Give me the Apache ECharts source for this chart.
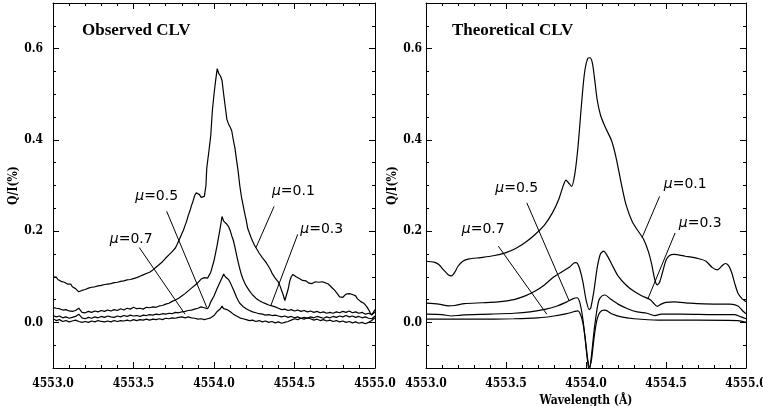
<!DOCTYPE html>
<html>
<head>
<meta charset="utf-8">
<script src="https://cdn.jsdelivr.net/npm/echarts@6/dist/echarts.min.js"></script>
<style>html,body{margin:0;padding:0;background:#fff;}#chart{width:763px;height:406px;}</style>
</head>
<body>
<div id="chart"></div>
<script>
// ---------------- DATA ----------------
const xTickLabels = ['4553.0', '4553.5', '4554.0', '4554.5', '4555.0'];
const yTickValues = [0.0, 0.2, 0.4, 0.6];
const panelTitles = ['Observed CLV', 'Theoretical CLV'];
const muNames = ['0.1', '0.3', '0.5', '0.7'];

// Observed CLV, [wavelength (Å), Q/I (%)]
const obsMu01 = [
[4553.00,0.100],[4553.01,0.097],[4553.02,0.099],[4553.03,0.094],[4553.04,0.095],[4553.05,0.090],[4553.06,0.092],[4553.07,0.088],[4553.08,0.089],[4553.09,0.084],
[4553.10,0.082],[4553.11,0.084],[4553.12,0.078],[4553.13,0.076],[4553.14,0.074],[4553.15,0.070],[4553.16,0.067],[4553.17,0.064],[4553.18,0.070],[4553.19,0.066],
[4553.20,0.072],[4553.21,0.070],[4553.22,0.075],[4553.23,0.073],[4553.24,0.077],[4553.25,0.074],[4553.26,0.078],[4553.27,0.076],[4553.28,0.080],[4553.29,0.077],
[4553.30,0.081],[4553.31,0.079],[4553.32,0.083],[4553.33,0.080],[4553.34,0.084],[4553.35,0.082],[4553.36,0.085],[4553.37,0.083],[4553.38,0.087],[4553.39,0.084],
[4553.40,0.088],[4553.41,0.086],[4553.42,0.090],[4553.43,0.087],[4553.44,0.091],[4553.45,0.089],[4553.46,0.093],[4553.47,0.090],[4553.48,0.094],[4553.49,0.092],
[4553.50,0.096],[4553.51,0.094],[4553.52,0.098],[4553.53,0.097],[4553.54,0.101],[4553.55,0.100],[4553.56,0.104],[4553.57,0.103],[4553.58,0.107],[4553.59,0.106],
[4553.60,0.110],[4553.61,0.111],[4553.62,0.115],[4553.63,0.117],[4553.64,0.121],[4553.65,0.124],[4553.66,0.127],[4553.67,0.131],[4553.68,0.133],[4553.69,0.137],
[4553.70,0.141],[4553.71,0.143],[4553.72,0.148],[4553.73,0.151],[4553.74,0.155],[4553.75,0.158],[4553.76,0.163],[4553.77,0.170],[4553.78,0.178],[4553.79,0.186],
[4553.80,0.194],[4553.81,0.202],[4553.82,0.212],[4553.83,0.222],[4553.84,0.234],[4553.85,0.244],[4553.86,0.256],[4553.87,0.266],[4553.88,0.278],[4553.89,0.284],
[4553.90,0.287],[4553.91,0.280],[4553.92,0.274],[4553.93,0.277],[4553.94,0.276],[4553.95,0.300],[4553.955,0.338],[4553.97,0.380],[4553.98,0.410],[4553.99,0.465],
[4554.00,0.500],[4554.01,0.530],[4554.02,0.556],[4554.03,0.545],[4554.04,0.540],[4554.05,0.530],[4554.06,0.500],[4554.07,0.472],[4554.08,0.445],[4554.09,0.435],
[4554.10,0.428],[4554.11,0.420],[4554.12,0.400],[4554.13,0.382],[4554.14,0.356],[4554.15,0.331],[4554.16,0.300],[4554.17,0.276],[4554.18,0.258],[4554.19,0.240],
[4554.20,0.224],[4554.21,0.205],[4554.22,0.196],[4554.23,0.186],[4554.24,0.178],[4554.25,0.170],[4554.26,0.164],[4554.27,0.158],[4554.28,0.152],[4554.29,0.148],
[4554.30,0.142],[4554.31,0.138],[4554.32,0.133],[4554.33,0.129],[4554.34,0.122],[4554.35,0.116],[4554.36,0.108],[4554.37,0.104],[4554.38,0.097],[4554.39,0.093],
[4554.40,0.088],[4554.41,0.080],[4554.42,0.070],[4554.43,0.060],[4554.44,0.048],[4554.45,0.060],[4554.46,0.072],[4554.47,0.090],[4554.48,0.100],[4554.49,0.105],
[4554.50,0.103],[4554.51,0.100],[4554.52,0.097],[4554.53,0.096],[4554.54,0.094],[4554.55,0.092],[4554.56,0.090],[4554.57,0.091],[4554.58,0.088],[4554.59,0.086],
[4554.60,0.088],[4554.61,0.085],[4554.62,0.087],[4554.63,0.089],[4554.64,0.086],[4554.65,0.088],[4554.66,0.090],[4554.67,0.089],[4554.68,0.086],[4554.69,0.087],
[4554.70,0.083],[4554.71,0.084],[4554.72,0.080],[4554.73,0.077],[4554.74,0.074],[4554.75,0.070],[4554.76,0.066],[4554.77,0.061],[4554.78,0.056],[4554.79,0.052],
[4554.80,0.055],[4554.81,0.058],[4554.82,0.062],[4554.83,0.060],[4554.84,0.063],[4554.85,0.059],[4554.86,0.061],[4554.87,0.057],[4554.88,0.058],[4554.89,0.052],
[4554.90,0.050],[4554.91,0.046],[4554.92,0.047],[4554.93,0.042],[4554.94,0.038],[4554.95,0.034],[4554.96,0.028],[4554.97,0.021],[4554.98,0.016],[4554.99,0.020],
[4555.00,0.028]];

const obsMu03 = [
[4553.00,0.033],[4553.02,0.031],[4553.04,0.030],[4553.06,0.027],[4553.08,0.028],[4553.10,0.025],[4553.12,0.024],[4553.14,0.026],[4553.16,0.031],[4553.17,0.028],
[4553.18,0.022],[4553.20,0.021],[4553.22,0.024],[4553.24,0.022],[4553.26,0.025],[4553.28,0.023],[4553.30,0.026],[4553.32,0.024],[4553.34,0.027],[4553.36,0.025],
[4553.38,0.028],[4553.40,0.026],[4553.42,0.030],[4553.44,0.027],[4553.46,0.031],[4553.48,0.029],[4553.50,0.033],[4553.52,0.030],[4553.54,0.031],[4553.56,0.029],
[4553.58,0.033],[4553.60,0.032],[4553.62,0.034],[4553.64,0.033],[4553.66,0.036],[4553.68,0.037],[4553.70,0.040],[4553.72,0.042],[4553.74,0.046],[4553.76,0.049],
[4553.78,0.053],[4553.80,0.058],[4553.82,0.063],[4553.84,0.069],[4553.86,0.075],[4553.88,0.081],[4553.90,0.087],[4553.92,0.095],[4553.94,0.098],[4553.95,0.094],
[4553.96,0.097],[4553.98,0.110],[4554.00,0.135],[4554.02,0.170],[4554.03,0.190],[4554.04,0.210],[4554.05,0.232],[4554.06,0.222],[4554.07,0.226],[4554.08,0.215],
[4554.09,0.210],[4554.10,0.202],[4554.11,0.190],[4554.12,0.180],[4554.13,0.165],[4554.14,0.148],[4554.15,0.132],[4554.16,0.118],[4554.17,0.105],[4554.18,0.095],
[4554.19,0.087],[4554.20,0.080],[4554.22,0.069],[4554.24,0.060],[4554.26,0.053],[4554.28,0.048],[4554.30,0.044],[4554.32,0.041],[4554.34,0.038],[4554.36,0.036],
[4554.38,0.034],[4554.40,0.031],[4554.42,0.028],[4554.44,0.029],[4554.46,0.026],[4554.48,0.028],[4554.50,0.025],[4554.52,0.027],[4554.54,0.024],[4554.56,0.026],
[4554.58,0.023],[4554.60,0.025],[4554.62,0.022],[4554.64,0.024],[4554.66,0.021],[4554.68,0.023],[4554.70,0.020],[4554.72,0.022],[4554.74,0.020],[4554.76,0.023],
[4554.78,0.021],[4554.80,0.024],[4554.82,0.022],[4554.84,0.025],[4554.86,0.021],[4554.88,0.023],[4554.90,0.020],[4554.92,0.022],[4554.94,0.018],[4554.96,0.020],
[4554.98,0.017],[4555.00,0.022]];

const obsMu05 = [
[4553.00,0.015],[4553.02,0.012],[4553.04,0.014],[4553.06,0.010],[4553.08,0.012],[4553.10,0.009],[4553.12,0.011],[4553.14,0.013],[4553.16,0.018],[4553.18,0.010],
[4553.20,0.008],[4553.22,0.011],[4553.24,0.009],[4553.26,0.012],[4553.28,0.010],[4553.30,0.013],[4553.32,0.011],[4553.34,0.014],[4553.36,0.012],[4553.38,0.011],
[4553.40,0.014],[4553.42,0.012],[4553.44,0.015],[4553.46,0.013],[4553.48,0.016],[4553.50,0.014],[4553.52,0.015],[4553.54,0.013],[4553.56,0.016],[4553.58,0.015],
[4553.60,0.017],[4553.62,0.016],[4553.64,0.018],[4553.66,0.017],[4553.68,0.019],[4553.70,0.018],[4553.72,0.020],[4553.74,0.019],[4553.76,0.022],[4553.78,0.021],
[4553.80,0.023],[4553.82,0.024],[4553.84,0.026],[4553.86,0.027],[4553.88,0.029],[4553.90,0.031],[4553.92,0.034],[4553.94,0.032],[4553.96,0.030],[4553.97,0.036],
[4553.98,0.045],[4554.00,0.058],[4554.02,0.075],[4554.04,0.090],[4554.05,0.098],[4554.06,0.106],[4554.07,0.100],[4554.08,0.098],[4554.09,0.094],[4554.10,0.088],
[4554.11,0.080],[4554.12,0.072],[4554.13,0.064],[4554.14,0.055],[4554.15,0.048],[4554.16,0.042],[4554.18,0.035],[4554.20,0.030],[4554.22,0.026],[4554.24,0.023],
[4554.26,0.021],[4554.28,0.019],[4554.30,0.018],[4554.32,0.016],[4554.34,0.017],[4554.36,0.015],[4554.38,0.016],[4554.40,0.014],[4554.42,0.012],[4554.44,0.014],
[4554.46,0.011],[4554.48,0.013],[4554.50,0.010],[4554.52,0.012],[4554.54,0.009],[4554.56,0.011],[4554.58,0.009],[4554.60,0.012],[4554.62,0.010],[4554.64,0.013],
[4554.66,0.011],[4554.68,0.009],[4554.70,0.012],[4554.72,0.010],[4554.74,0.013],[4554.76,0.011],[4554.78,0.014],[4554.80,0.012],[4554.82,0.015],[4554.84,0.012],
[4554.86,0.014],[4554.88,0.011],[4554.90,0.013],[4554.92,0.010],[4554.94,0.012],[4554.96,0.009],[4554.98,0.008],[4555.00,0.014]];

const obsMu07 = [
[4553.00,0.008],[4553.02,0.004],[4553.04,0.006],[4553.06,0.002],[4553.08,0.004],[4553.10,0.001],[4553.12,0.003],[4553.14,0.005],[4553.16,0.002],[4553.18,0.000],
[4553.20,0.002],[4553.22,0.000],[4553.24,0.003],[4553.26,0.001],[4553.28,0.004],[4553.30,0.002],[4553.32,0.001],[4553.34,0.003],[4553.36,0.001],[4553.38,0.004],
[4553.40,0.002],[4553.42,0.004],[4553.44,0.003],[4553.46,0.005],[4553.48,0.003],[4553.50,0.006],[4553.52,0.004],[4553.54,0.006],[4553.56,0.005],[4553.58,0.007],
[4553.60,0.005],[4553.62,0.007],[4553.64,0.006],[4553.66,0.008],[4553.68,0.006],[4553.70,0.009],[4553.72,0.008],[4553.74,0.010],[4553.76,0.009],[4553.78,0.011],
[4553.80,0.012],[4553.82,0.010],[4553.84,0.012],[4553.86,0.010],[4553.88,0.009],[4553.90,0.007],[4553.92,0.008],[4553.94,0.006],[4553.96,0.008],[4553.98,0.010],
[4554.00,0.015],[4554.02,0.024],[4554.04,0.030],[4554.05,0.036],[4554.06,0.030],[4554.07,0.033],[4554.08,0.028],[4554.09,0.026],[4554.10,0.024],[4554.12,0.018],
[4554.14,0.014],[4554.16,0.010],[4554.18,0.008],[4554.20,0.006],[4554.22,0.004],[4554.24,0.005],[4554.26,0.002],[4554.28,0.004],[4554.30,0.001],[4554.32,0.003],
[4554.34,0.000],[4554.36,0.002],[4554.38,-0.001],[4554.40,0.001],[4554.42,-0.002],[4554.44,0.000],[4554.46,0.002],[4554.48,0.005],[4554.50,0.008],[4554.52,0.006],
[4554.54,0.009],[4554.56,0.007],[4554.58,0.010],[4554.60,0.008],[4554.62,0.005],[4554.64,0.007],[4554.66,0.004],[4554.68,0.006],[4554.70,0.003],[4554.72,0.005],
[4554.74,0.002],[4554.76,0.004],[4554.78,0.001],[4554.80,0.003],[4554.82,0.000],[4554.84,0.002],[4554.86,-0.001],[4554.88,0.001],[4554.90,-0.002],[4554.92,0.000],
[4554.94,-0.003],[4554.96,0.000],[4554.98,0.004],[4555.00,0.010]];

// Theoretical CLV, [wavelength (Å), Q/I (%)]
const theoMu01 = [
[4553.00,0.134],[4553.05,0.132],[4553.08,0.127],[4553.11,0.115],[4553.14,0.104],[4553.16,0.102],[4553.18,0.110],[4553.20,0.123],[4553.23,0.134],[4553.27,0.139],
[4553.34,0.142],[4553.42,0.146],[4553.50,0.153],[4553.56,0.162],[4553.62,0.175],[4553.68,0.192],[4553.74,0.213],[4553.79,0.240],[4553.83,0.270],[4553.86,0.302],
[4553.875,0.312],[4553.89,0.306],[4553.91,0.298],[4553.93,0.325],[4553.95,0.385],[4553.97,0.470],[4553.99,0.545],[4554.01,0.578],[4554.025,0.580],[4554.04,0.568],
[4554.055,0.530],[4554.07,0.488],[4554.09,0.455],[4554.12,0.428],[4554.16,0.398],[4554.19,0.358],[4554.22,0.305],[4554.25,0.258],[4554.29,0.220],[4554.33,0.198],
[4554.36,0.182],[4554.39,0.155],[4554.41,0.128],[4554.43,0.094],[4554.445,0.082],[4554.46,0.088],[4554.48,0.112],[4554.50,0.136],[4554.52,0.146],[4554.55,0.149],
[4554.62,0.145],[4554.70,0.140],[4554.75,0.134],[4554.79,0.120],[4554.82,0.115],[4554.85,0.124],[4554.87,0.129],[4554.89,0.125],[4554.91,0.110],[4554.93,0.085],
[4554.95,0.064],[4554.975,0.052],[4555.00,0.045]];

const theoMu03 = [
[4553.00,0.042],[4553.08,0.040],[4553.14,0.036],[4553.18,0.037],[4553.24,0.041],[4553.35,0.043],[4553.45,0.045],[4553.55,0.050],[4553.62,0.058],[4553.68,0.068],
[4553.74,0.082],[4553.80,0.100],[4553.86,0.113],[4553.90,0.122],[4553.93,0.131],[4553.945,0.130],[4553.96,0.118],[4553.98,0.090],[4554.00,0.050],[4554.02,0.028],
[4554.03,0.032],[4554.05,0.070],[4554.07,0.120],[4554.09,0.150],[4554.11,0.156],[4554.13,0.148],[4554.16,0.128],[4554.20,0.102],[4554.25,0.082],[4554.30,0.068],
[4554.35,0.058],[4554.40,0.050],[4554.42,0.043],[4554.445,0.035],[4554.47,0.040],[4554.50,0.044],[4554.55,0.045],[4554.65,0.042],[4554.80,0.040],[4554.90,0.040],
[4554.95,0.036],[4554.98,0.025],[4555.00,0.019]];

const theoMu05 = [
[4553.00,0.018],[4553.10,0.017],[4553.16,0.014],[4553.22,0.016],[4553.40,0.018],[4553.55,0.020],[4553.65,0.023],[4553.75,0.029],[4553.82,0.036],[4553.88,0.045],
[4553.92,0.052],[4553.945,0.054],[4553.96,0.045],[4553.975,0.020],[4553.99,-0.020],[4554.005,-0.070],[4554.02,-0.108],[4554.035,-0.070],[4554.05,-0.020],[4554.065,0.020],
[4554.08,0.048],[4554.10,0.058],[4554.12,0.060],[4554.15,0.052],[4554.20,0.040],[4554.26,0.030],[4554.32,0.023],[4554.38,0.020],[4554.43,0.015],[4554.47,0.018],
[4554.60,0.018],[4554.80,0.017],[4554.93,0.017],[4554.97,0.012],[4555.00,0.008]];

const theoMu07 = [
[4553.00,0.007],[4553.30,0.007],[4553.55,0.008],[4553.70,0.010],[4553.80,0.014],[4553.88,0.019],[4553.93,0.024],[4553.95,0.025],[4553.965,0.018],[4553.98,0.000],
[4553.995,-0.035],[4554.01,-0.080],[4554.022,-0.098],[4554.035,-0.080],[4554.05,-0.035],[4554.065,0.000],[4554.08,0.018],[4554.10,0.026],[4554.12,0.027],[4554.16,0.019],
[4554.22,0.012],[4554.30,0.008],[4554.45,0.005],[4554.70,0.005],[4554.95,0.004],[4555.00,0.000]];

// Annotation anchors (data coordinates), order: mu 0.1, 0.3, 0.5, 0.7
const obsLabelAt  = [[4554.493,0.287],[4554.669,0.204],[4553.644,0.276],[4553.486,0.182]];
const obsLineFrom = [[4554.373,0.254],[4554.520,0.193],[4553.706,0.2435],[4553.536,0.164]];
const obsLineTo   = [[4554.261,0.164],[4554.352,0.036],[4553.955,0.033],[4553.820,0.018]];
const theoLabelAt  = [[4554.620,0.302],[4554.714,0.218],[4553.567,0.2945],[4553.358,0.204]];
const theoLineFrom = [[4554.460,0.276],[4554.557,0.196],[4553.630,0.262],[4553.452,0.167]];
const theoLineTo   = [[4554.350,0.1855],[4554.386,0.051],[4553.895,0.047],[4553.755,0.018]];

// ---------------- CHART ----------------
const chart = echarts.init(document.getElementById('chart'), null, {renderer: 'canvas'});
const serifBold = "'DejaVu Serif Condensed', 'Liberation Serif', serif";
const tickFont = {fontFamily: serifBold, fontWeight: 'bold', fontSize: 12, color: '#000'};
const axisCol = '#000';

function xAxes(gridIndex, withName) {
  const base = {
    type: 'value', gridIndex: gridIndex, min: 4553, max: 4555, interval: 0.5,
    axisLine: {show: true, onZero: false, lineStyle: {color: axisCol, width: 1}},
    axisTick: {show: true, inside: true, length: 6, lineStyle: {color: axisCol}},
    minorTick: {show: true, splitNumber: 5, length: 3, lineStyle: {color: axisCol}},
    splitLine: {show: false}, minorSplitLine: {show: false}
  };
  const bottom = Object.assign({}, base, {
    position: 'bottom',
    axisLabel: Object.assign({show: true, margin: 10, formatter: function (v) {
      const i = Math.round((v - 4553) / 0.5); return xTickLabels[i] || '';
    }}, tickFont)
  });
  if (withName) {
    bottom.name = 'Wavelength (Å)';
    bottom.nameLocation = 'middle';
    bottom.nameGap = 21;
    bottom.nameTextStyle = {fontFamily: serifBold, fontWeight: 'bold', fontSize: 12, color: '#000'};
  }
  const top = Object.assign({}, base, {position: 'top', axisLabel: {show: false}});
  return [bottom, top];
}

function yAxes(gridIndex, nameGap, labelMargin) {
  const common = {type: 'value', gridIndex: gridIndex, min: -0.1, max: 0.7, splitLine: {show: false}};
  const leftMajor = Object.assign({}, common, {
    position: 'left',
    name: 'Q/I(%)', nameLocation: 'middle', nameGap: nameGap, nameRotate: 90,
    nameTextStyle: {fontFamily: serifBold, fontWeight: 'bold', fontSize: 12, color: '#000'},
    axisLine: {show: true, onZero: false, lineStyle: {color: axisCol, width: 1}},
    axisTick: {show: true, inside: true, length: 6, customValues: yTickValues, lineStyle: {color: axisCol}},
    axisLabel: Object.assign({show: true, margin: labelMargin, customValues: yTickValues, formatter: function (v) { return v.toFixed(1); }}, tickFont)
  });
  const leftMinor = Object.assign({}, common, {
    position: 'left', interval: 0.05,
    axisLine: {show: false}, axisLabel: {show: false},
    axisTick: {show: true, inside: true, length: 3, lineStyle: {color: axisCol}}
  });
  const rightMajor = Object.assign({}, common, {
    position: 'right',
    axisLine: {show: true, onZero: false, lineStyle: {color: axisCol, width: 1}},
    axisTick: {show: true, inside: true, length: 6, customValues: yTickValues, lineStyle: {color: axisCol}},
    axisLabel: {show: false}
  });
  const rightMinor = Object.assign({}, common, {
    position: 'right', interval: 0.05,
    axisLine: {show: false}, axisLabel: {show: false},
    axisTick: {show: true, inside: true, length: 3, lineStyle: {color: axisCol}}
  });
  return [leftMajor, leftMinor, rightMajor, rightMinor];
}

function curve(data, xi, yi, smooth) {
  return {
    type: 'line', xAxisIndex: xi, yAxisIndex: yi, data: data,
    showSymbol: false, symbol: 'none', clip: true, animation: false, smooth: smooth,
    lineStyle: {color: '#000', width: 1.2}, silent: true
  };
}

function annotations(xi, yi, labelAt, lineFrom, lineTo) {
  return {
    type: 'line', xAxisIndex: xi, yAxisIndex: yi, data: [], silent: true, animation: false,
    markLine: {
      silent: true, symbol: ['none', 'none'], animation: false,
      label: {show: false},
      lineStyle: {color: '#000', width: 1, type: 'solid'},
      data: lineFrom.map(function (p, i) { return [{coord: p}, {coord: lineTo[i]}]; })
    },
    markPoint: {
      silent: true, animation: false, symbol: 'circle', symbolSize: 0,
      itemStyle: {color: 'rgba(0,0,0,0)'},
      label: {
        show: true, position: 'inside', color: '#000',
        fontFamily: 'DejaVu Sans', fontSize: 14,
        rich: {i: {fontFamily: 'DejaVu Sans', fontStyle: 'italic', fontSize: 14, color: '#000'}}
      },
      data: labelAt.map(function (p, i) {
        return {coord: p, label: {formatter: '{i|\u03bc}=' + muNames[i]}};
      })
    }
  };
}

const option = {
  backgroundColor: '#fff',
  animation: false,
  grid: [
    {left: 53, top: 3, width: 322, height: 365, outerBoundsMode: 'none', containLabel: false},
    {left: 426, top: 3, width: 320, height: 365, outerBoundsMode: 'none', containLabel: false}
  ],
  xAxis: [].concat(xAxes(0, false), xAxes(1, true)),
  yAxis: [].concat(yAxes(0, 32, 10), yAxes(1, 27, 4)),
  series: [
    curve(obsMu01, 0, 0, false), curve(obsMu03, 0, 0, false), curve(obsMu05, 0, 0, false), curve(obsMu07, 0, 0, false),
    annotations(0, 0, obsLabelAt, obsLineFrom, obsLineTo),
    curve(theoMu01, 2, 4, 0.25), curve(theoMu03, 2, 4, 0.25), curve(theoMu05, 2, 4, 0.25), curve(theoMu07, 2, 4, 0.25),
    annotations(2, 4, theoLabelAt, theoLineFrom, theoLineTo)
  ],
  graphic: [
    {type: 'text', left: 82, top: 22, style: {text: panelTitles[0], fontFamily: 'Liberation Serif', fontWeight: 'bold', fontSize: 17, fill: '#000'}},
    {type: 'text', left: 452, top: 22, style: {text: panelTitles[1], fontFamily: 'Liberation Serif', fontWeight: 'bold', fontSize: 17, fill: '#000'}}
  ]
};
chart.setOption(option);
</script>
</body>
</html>
